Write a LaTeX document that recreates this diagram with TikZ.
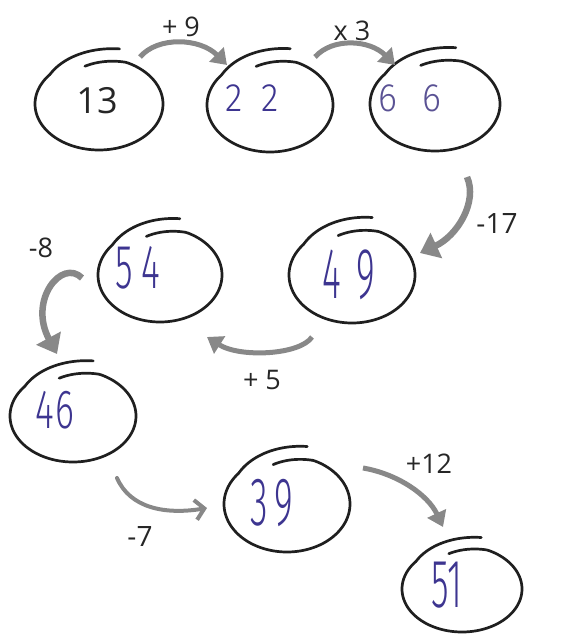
\documentclass[tikz,border=0pt]{standalone}
\usepackage{fontspec}
\setmainfont{Open Sans}
\newfontfamily\handfont{Fira Sans Light}
\usetikzlibrary{arrows.meta,shapes.geometric}
\definecolor{ink}{HTML}{3D3590}
\definecolor{inklight}{HTML}{5A5294}
\definecolor{arrowgray}{HTML}{888888}
\newcommand\numloop[5]{%
  \node[ellnode, minimum width={2*#4pt}, minimum height={2*#5pt}] (#1) at (#2,#3) {};
  \draw[loopline, shift={(#1.center)}] plot[domain=0:390, samples=150, smooth, variable=\t]
    ({#4*rr(\t)*cos(105-\t)}, {-#5*rr(\t)*sin(105-\t)});
}
\begin{document}
\begin{tikzpicture}[x=1pt, y=-1pt,
  declare function={rr(\s)=1-0.15*max(0,1-\s/40)+0.24*max(0,(\s-325)/65);},
  loopline/.style={line width=2.7pt, black!88, line cap=round, line join=round},
  ellnode/.style={ellipse, inner sep=0pt, outer sep=0pt},
  printed/.style={text=black!85, font=\fontsize{36}{36}\selectfont, inner sep=0pt},
  hand/.style={text=ink, font=\handfont\fontsize{36}{36}\selectfont, inner sep=0pt},
  lbl/.style={text=black!85, font=\fontsize{27}{27}\selectfont, inner sep=0pt},
  garrow/.style={draw=arrowgray, line width=5pt, -{Triangle[length=15pt,width=20pt]}},
  bigarrow/.style={draw=arrowgray, line width=6.5pt, -{Triangle[length=18pt,width=27pt]}},
  thinarrow/.style={draw=arrowgray, line width=4pt, line cap=round, -{Straight Barb[length=9pt,width=20pt,line width=4pt]}},
]
\useasboundingbox (0,0) rectangle (566,634);

% ellipses
\numloop{n13}{99}{104}{64}{46}
\numloop{n22}{270}{105}{63}{47}
\numloop{n66}{435}{104}{65}{47}
\numloop{n54}{160}{275}{62}{47}
\numloop{n49}{352}{275}{63}{48}
\numloop{n46}{73}{416}{63}{46}
\numloop{n39}{287}{504}{63}{48}
\numloop{n51}{462}{589}{60}{43}

% numbers
\node[printed] (t13) at (97,101) {13};
\node[hand] (t22) at (252,98) {\scalebox{1}[1.1]{2\hspace{18pt}2}};
\node[hand, text=inklight] (t66) at (410,98) {\scalebox{1}[1.1]{6\hspace{25pt}6}};
\node[hand] (t54) at (138,268) {\scalebox{1}[1.73]{5\hspace{8pt}4}};
\node[hand] (t49) at (349,275) {\scalebox{1}[2.0]{4\hspace{16pt}9}};
\node[hand] (t46) at (55,410) {\scalebox{1}[1.53]{4\hspace{2pt}6}};
\node[hand] (t39) at (272,503) {\scalebox{1}[1.9]{3\hspace{7pt}9}};
\node[hand] (t51) at (447,585) {\scalebox{1}[1.9]{51}};

% operation labels
\node[lbl] (l9) at (181,27) {+ 9};
\node[lbl] (lx3) at (352,31) {x 3};
\node[lbl, font=\fontsize{28}{28}\selectfont] (l17) at (497,224) {-17};
\node[lbl] (l5) at (262,380) {+ 5};
\node[lbl] (l8) at (41,248) {-8};
\node[lbl, font=\fontsize{28}{28}\selectfont] (l7) at (140,536) {-7};
\node[lbl] (l12) at (429,464) {+12};

% arrows
\draw[garrow] ([shift={(41,-47)}]n13.center) .. controls (158,36) and (200,38) .. ([shift={(-43,-40)}]n22.center);
\draw[garrow] ([shift={(45,-48)}]n22.center) .. controls (333,37) and (370,40) .. ([shift={(-40,-39)}]n66.center);
\draw[bigarrow] ([shift={(32,73)}]n66.center) .. controls (478,202) and (457,236) .. ([shift={(68,-22)}]n49.center);
\draw[garrow] ([shift={(-40,62)}]n49.center) .. controls (300,355) and (240,358) .. ([shift={(47,62)}]n54.center);
\draw[bigarrow] ([shift={(-78,3)}]n54.center) .. controls (62,258) and (28,300) .. ([shift={(-16,-62)}]n46.center);
\draw[thinarrow] ([shift={(44,62)}]n46.center) .. controls (130,508) and (165,515) .. ([shift={(-80,4)}]n39.center);
\draw[garrow] ([shift={(76,-36)}]n39.center) .. controls (398,474) and (428,495) .. ([shift={(-19,-62)}]n51.center);
\end{tikzpicture}
\end{document}
